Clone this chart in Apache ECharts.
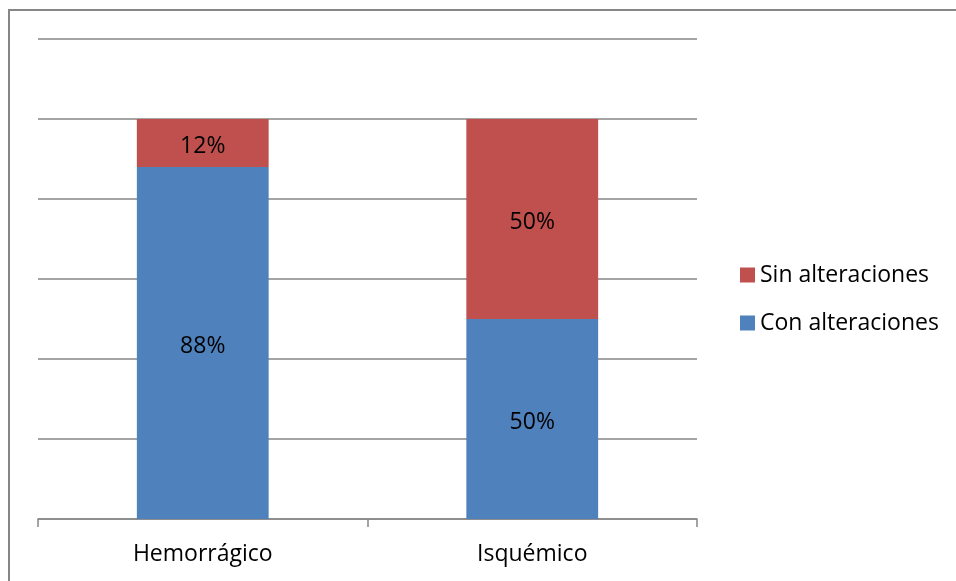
<!DOCTYPE html>
<html>
<head>
<meta charset="utf-8">
<script src="https://cdn.jsdelivr.net/npm/echarts@6/dist/echarts.min.js"></script>
<style>
html,body{margin:0;padding:0;background:#fff;}
#c{width:956px;height:581px;}
</style>
</head>
<body>
<div id="c"></div>
<script>
const categories = ['Hemorrágico', 'Isquémico'];
const conAlteraciones = [88, 50];
const sinAlteraciones = [12, 50];

const chart = echarts.init(document.getElementById('c'));
const font = 'Open Sans';
const labelStyle = { show: true, position: 'inside', offset: [0, 3], formatter: '{c}%', fontFamily: font, fontSize: 23, color: '#000' };
chart.setOption({
  animation: false,
  textStyle: { fontFamily: font },
  graphic: [{
    type: 'rect',
    shape: { x: 9, y: 10, width: 1000, height: 1000 },
    style: { fill: 'none', stroke: '#868686', lineWidth: 2 },
    silent: true
  }],
  grid: { left: 38, right: 259, top: 39, bottom: 62 },
  legend: {
    orient: 'vertical',
    left: 740,
    top: 260,
    padding: 0,
    itemWidth: 15,
    itemHeight: 15,
    itemGap: 18,
    icon: 'rect',
    data: ['Sin alteraciones', 'Con alteraciones'],
    textStyle: { fontFamily: font, fontSize: 23, color: '#000', lineHeight: 30 }
  },
  xAxis: {
    type: 'category',
    data: categories,
    axisLine: { lineStyle: { color: '#868686', width: 1.5 } },
    axisTick: { show: true, length: 8, lineStyle: { color: '#868686', width: 1.5 } },
    axisLabel: { fontFamily: font, fontSize: 23, color: '#000', margin: 24 }
  },
  yAxis: {
    type: 'value',
    min: 0,
    max: 120,
    interval: 20,
    axisLabel: { show: false },
    axisLine: { show: false },
    axisTick: { show: false },
    splitLine: { lineStyle: { color: '#868686', width: 1.5 } }
  },
  series: [
    {
      name: 'Con alteraciones',
      type: 'bar',
      stack: 'total',
      barWidth: '40%',
      data: conAlteraciones,
      itemStyle: { color: '#4F81BD' },
      label: labelStyle
    },
    {
      name: 'Sin alteraciones',
      type: 'bar',
      stack: 'total',
      barWidth: '40%',
      data: sinAlteraciones,
      itemStyle: { color: '#C0504D' },
      label: labelStyle
    }
  ]
});
</script>
</body>
</html>
